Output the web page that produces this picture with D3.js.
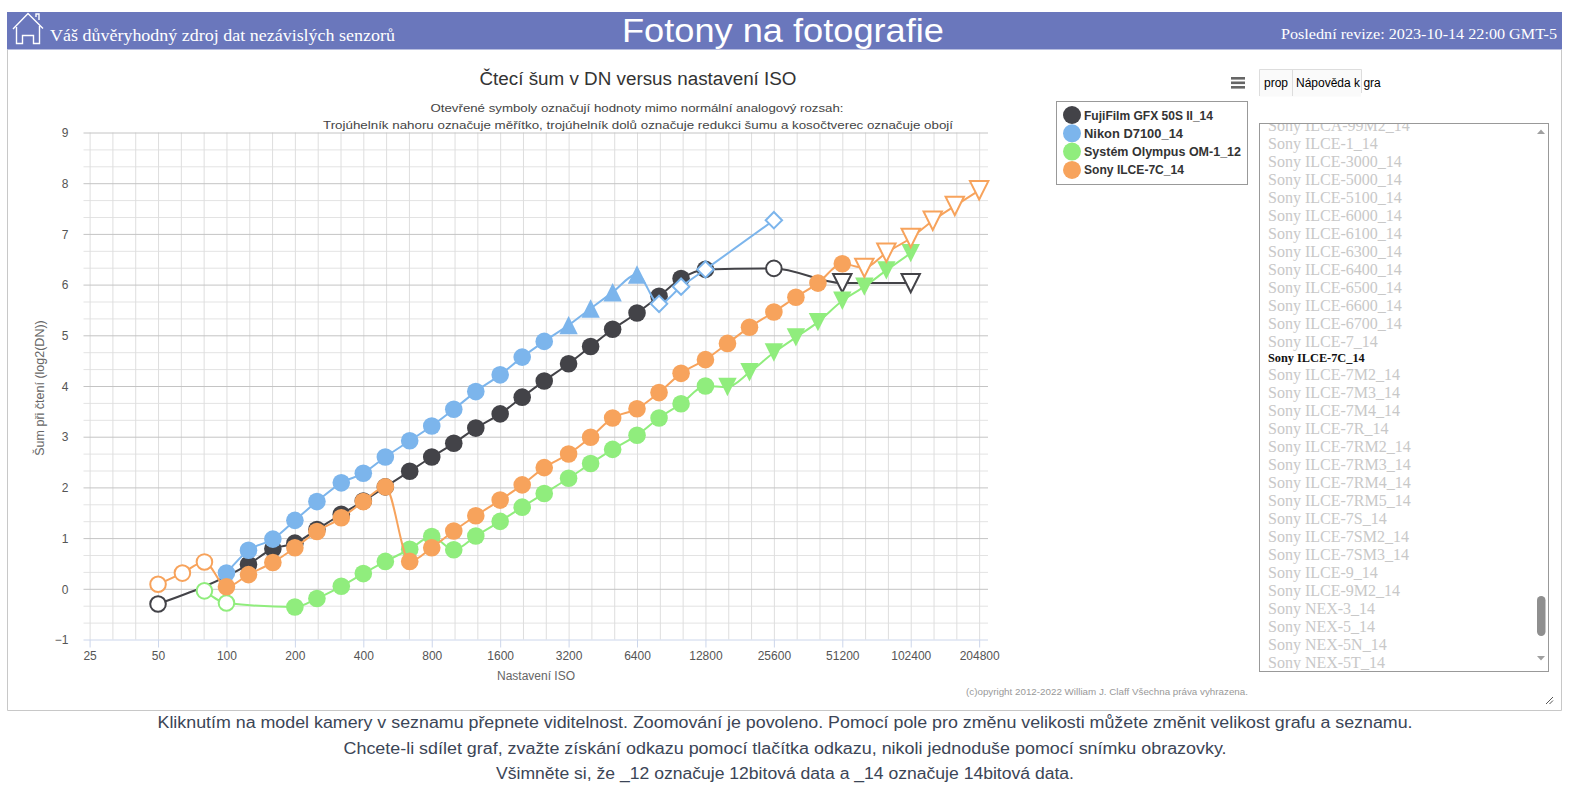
<!DOCTYPE html>
<html><head><meta charset="utf-8">
<script src="https://cdn.jsdelivr.net/npm/d3@7"></script>
<style>body{margin:0;background:#fff;overflow:hidden;} svg{display:block;}</style>
</head><body><svg id="c" width="1569" height="799"></svg>
<script>
// ---------- DATA ----------
const isoTicks = [25,50,100,200,400,800,1600,3200,6400,12800,25600,51200,102400,204800];
const yTicks = [-1,0,1,2,3,4,5,6,7,8,9];
const seriesNames = ["FujiFilm GFX 50S II_14","Nikon D7100_14","Systém Olympus OM-1_12","Sony ILCE-7C_14"];
const seriesColors = ["#434348","#7cb5ec","#90ed7d","#f7a35c"];
// marker codes: c = normal, o = outside analog range, tu = scaling, td = noise reduction,
// otd = noise reduction outside range, od = both outside range
const fujiIso = [50,125,160,200,250,320,400,500,640,800,1000,1250,1600,2000,2500,3200,4000,5000,6400,8000,10000,12800,25600,51200,102400];
const fujiVal = [-0.30,0.48,0.79,0.90,1.17,1.47,1.73,2.01,2.32,2.60,2.87,3.17,3.45,3.78,4.10,4.44,4.78,5.12,5.44,5.77,6.12,6.30,6.32,6.03,6.03];
const fujiMark = ["o","c","c","c","c","c","c","c","c","c","c","c","c","c","c","c","c","c","c","c","c","c","o","otd","otd"];
const nikonIso = [100,125,160,200,250,320,400,500,640,800,1000,1250,1600,2000,2500,3200,4000,5000,6400,8000,10000,12800,25600];
const nikonVal = [0.31,0.76,0.98,1.35,1.72,2.09,2.28,2.60,2.92,3.21,3.54,3.89,4.22,4.57,4.88,5.20,5.53,5.85,6.20,5.62,5.96,6.30,7.27];
const nikonMark = ["c","c","c","c","c","c","c","c","c","c","c","c","c","c","c","tu","tu","tu","tu","od","od","od","od"];
const olyIso = [80,100,200,250,320,400,500,640,800,1000,1250,1600,2000,2500,3200,4000,5000,6400,8000,10000,12800,16000,20000,25600,32000,40000,51200,64000,80000,102400];
const olyVal = [-0.04,-0.28,-0.36,-0.19,0.05,0.30,0.54,0.78,1.03,0.77,1.04,1.33,1.61,1.88,2.18,2.47,2.75,3.03,3.37,3.65,4.00,3.98,4.27,4.66,4.96,5.26,5.68,5.96,6.28,6.62];
const olyMark = ["o","o","c","c","c","c","c","c","c","c","c","c","c","c","c","c","c","c","c","c","c","td","td","td","td","td","td","td","td","td"];
const sonyIso = [50,64,80,100,125,160,200,250,320,400,500,640,800,1000,1250,1600,2000,2500,3200,4000,5000,6400,8000,10000,12800,16000,20000,25600,32000,40000,51200,64000,80000,102400,128000,160000,204800];
const sonyVal = [0.09,0.31,0.53,0.04,0.28,0.52,0.81,1.13,1.40,1.72,2.01,0.54,0.81,1.14,1.44,1.75,2.05,2.39,2.66,2.99,3.37,3.55,3.87,4.25,4.52,4.84,5.16,5.46,5.75,6.03,6.41,6.33,6.63,6.92,7.26,7.55,7.86];
const sonyMark = ["o","o","o","c","c","c","c","c","c","c","c","c","c","c","c","c","c","c","c","c","c","c","c","c","c","c","c","c","c","c","c","otd","otd","otd","otd","otd","otd"];
const listModels = ["Sony ILCA-99M2_14","Sony ILCE-1_14","Sony ILCE-3000_14","Sony ILCE-5000_14","Sony ILCE-5100_14","Sony ILCE-6000_14","Sony ILCE-6100_14","Sony ILCE-6300_14","Sony ILCE-6400_14","Sony ILCE-6500_14","Sony ILCE-6600_14","Sony ILCE-6700_14","Sony ILCE-7_14","Sony ILCE-7C_14","Sony ILCE-7M2_14","Sony ILCE-7M3_14","Sony ILCE-7M4_14","Sony ILCE-7R_14","Sony ILCE-7RM2_14","Sony ILCE-7RM3_14","Sony ILCE-7RM4_14","Sony ILCE-7RM5_14","Sony ILCE-7S_14","Sony ILCE-7SM2_14","Sony ILCE-7SM3_14","Sony ILCE-9_14","Sony ILCE-9M2_14","Sony NEX-3_14","Sony NEX-5_14","Sony NEX-5N_14","Sony NEX-5T_14"];
const selectedModel = "Sony ILCE-7C_14";
const headerLeft = "Váš důvěryhodný zdroj dat nezávislých senzorů";
const headerTitle = "Fotony na fotografie";
const headerRight = "Poslední revize: 2023-10-14 22:00 GMT-5";
const chartTitle = "Čtecí šum v DN versus nastavení ISO";
const subtitleLines = ["Otevřené symboly označují hodnoty mimo normální analogový rozsah:","Trojúhelník nahoru označuje měřítko, trojúhelník dolů označuje redukci šumu a kosočtverec označuje obojí"];
const xTitle = "Nastavení ISO";
const yTitle = "Šum při čtení (log2(DN))";
const copyright = "(c)opyright 2012-2022 William J. Claff Všechna práva vyhrazena.";
const footerLines = ["Kliknutím na model kamery v seznamu přepnete viditelnost. Zoomování je povoleno. Pomocí pole pro změnu velikosti můžete změnit velikost grafu a seznamu.","Chcete-li sdílet graf, zvažte získání odkazu pomocí tlačítka odkazu, nikoli jednoduše pomocí snímku obrazovky.","Všimněte si, že _12 označuje 12bitová data a _14 označuje 14bitová data."];

// ---------- DRAW ----------
const svg = d3.select("#c");
const SANS = "'Liberation Sans', Arial, sans-serif";
const SERIF = "'Liberation Serif', 'Times New Roman', serif";
function fit(sel, w){
  const L = sel.node().getComputedTextLength();
  if (Math.abs(L - w) / w > 0.015) sel.attr("textLength", w).attr("lengthAdjust", "spacingAndGlyphs");
  return sel;
}

// header
svg.append("rect").attr("x",7).attr("y",12).attr("width",1555).attr("height",37).attr("fill","#6a77bc");
svg.append("line").attr("x1",7).attr("x2",1562).attr("y1",49.5).attr("y2",49.5).attr("stroke","#b8bedf");
const hg = svg.append("g").attr("fill","none").attr("stroke","#fff").attr("stroke-width",1.4);
hg.append("path").attr("d","M13,29 L28,13.5 L43,28.5 M36,17 L36,14 L39,14 L39,20");
hg.append("path").attr("d","M16.5,27 L16.5,43.5 L22.5,43.5 L22.5,35.5 L33.5,35.5 L33.5,43.5 L39.5,43.5 L39.5,26");
fit(svg.append("text").attr("x",50).attr("y",41).attr("font-family",SERIF).attr("font-size",17).attr("fill","#fff").text(headerLeft),345);
fit(svg.append("text").attr("x",783).attr("y",42).attr("text-anchor","middle").attr("font-family",SANS).attr("font-size",33).attr("fill","#fff").text(headerTitle),322);
fit(svg.append("text").attr("x",1557).attr("y",39).attr("text-anchor","end").attr("font-family",SERIF).attr("font-size",15).attr("fill","#fff").text(headerRight),276);

// container border
svg.append("path").attr("d","M7.5,50 L7.5,710.5 L1561.5,710.5 L1561.5,50").attr("fill","none").attr("stroke","#c8c8c8");

// scales
const x = d3.scaleLog().base(2).domain([23.5, 224000]).range([83.5, 988]);
const y = d3.scaleLinear().domain([-1, 9]).range([639.5, 132.5]);
const [x0, x1] = x.range();

// grid
const minorX = [];
for (let k = 0; k <= 39; k++) { const v = 25 * Math.pow(2, k/3); if (k % 3 !== 0 && v < 224000) minorX.push(v); }
const minorY = [];
for (let k = -3; k < 27; k++) { if (k % 3 !== 0) minorY.push(k/3); }
const grid = svg.append("g");
grid.append("g").attr("transform",`translate(${x0},0)`)
  .call(d3.axisLeft(y).tickValues(minorY).tickSize(-(x1-x0)).tickFormat(""))
  .call(g=>{g.select(".domain").remove(); g.selectAll("line").attr("stroke","#e3e3e3");});
grid.append("g").attr("transform",`translate(0,${y(9)})`)
  .call(d3.axisBottom(x).tickValues(minorX.concat(isoTicks)).tickSize(y(-1)-y(9)).tickFormat(""))
  .call(g=>{g.select(".domain").remove(); g.selectAll("line").attr("stroke","#dedede");});
grid.append("g").attr("transform",`translate(${x0},0)`)
  .call(d3.axisLeft(y).tickValues(yTicks.slice(1)).tickSize(-(x1-x0)).tickFormat(""))
  .call(g=>{g.select(".domain").remove(); g.selectAll("line").attr("stroke","#c4c4c4");});

// x axis
const xa = svg.append("g").attr("transform",`translate(0,${y(-1)})`)
  .call(d3.axisBottom(x).tickValues(isoTicks).tickSize(8).tickPadding(4).tickFormat(d3.format("d")));
xa.select(".domain").attr("d",`M${x0},0.5H${x1}`).attr("stroke","#ccd6eb");
xa.selectAll(".tick line").attr("stroke","#ccd6eb");
xa.selectAll("text").attr("font-family",SANS).attr("font-size",12).attr("fill","#555");
// y axis labels
const ya = svg.append("g").attr("transform",`translate(${x0-15},0)`)
  .call(d3.axisLeft(y).tickValues(yTicks).tickSize(0).tickPadding(0));
ya.select(".domain").remove();
ya.selectAll("text").attr("font-family",SANS).attr("font-size",12).attr("fill","#555").attr("dy","0.35em");

// axis titles
svg.append("text").attr("x",536).attr("y",680).attr("text-anchor","middle").attr("font-family",SANS).attr("font-size",12).attr("fill","#666").text(xTitle);
svg.append("text").attr("transform","translate(44,388) rotate(-90)").attr("text-anchor","middle").attr("font-family",SANS).attr("font-size",12.5).attr("fill","#666").text(yTitle);

// titles
fit(svg.append("text").attr("x",638).attr("y",85).attr("text-anchor","middle").attr("font-family",SANS).attr("font-size",18).attr("fill","#333").text(chartTitle),317);
fit(svg.append("text").attr("x",637).attr("y",112).attr("text-anchor","middle").attr("font-family",SANS).attr("font-size",11.5).attr("fill","#444").text(subtitleLines[0]),413);
fit(svg.append("text").attr("x",638).attr("y",129).attr("text-anchor","middle").attr("font-family",SANS).attr("font-size",11.5).attr("fill","#444").text(subtitleLines[1]),630);

// series
const series = [
  {iso:fujiIso, val:fujiVal, mark:fujiMark},
  {iso:nikonIso, val:nikonVal, mark:nikonMark},
  {iso:olyIso, val:olyVal, mark:olyMark},
  {iso:sonyIso, val:sonyVal, mark:sonyMark}
].map((s,i)=>({name:seriesNames[i], color:seriesColors[i], pts:s.iso.map((v,j)=>({iso:v, v:s.val[j], m:s.mark[j]}))}));

const line = d3.line().x(d=>x(d.iso)).y(d=>y(d.v)).curve(d3.curveMonotoneX);
const R = 8.8, T = 9.2, D = 8.2;
function tri(up){ return up ? `M0,${-T}L${T},${T}L${-T},${T}Z` : `M${-T},${-T}L${T},${-T}L0,${T}Z`; }
series.forEach(s=>{
  const g = svg.append("g");
  g.append("path").attr("d", line(s.pts)).attr("fill","none").attr("stroke",s.color).attr("stroke-width",2);
  s.pts.forEach(p=>{
    const cx = x(p.iso), cy = y(p.v);
    const open = p.m === "o" || p.m === "otd" || p.m === "od";
    let el;
    if (p.m === "c" || p.m === "o") el = g.append("circle").attr("cx",cx).attr("cy",cy).attr("r", open ? R-1 : R);
    else if (p.m === "tu") el = g.append("path").attr("d",tri(true)).attr("transform",`translate(${cx},${cy})`);
    else if (p.m === "td" || p.m === "otd") el = g.append("path").attr("d",tri(false)).attr("transform",`translate(${cx},${cy})`);
    else el = g.append("path").attr("d",`M0,${-D}L${D},0L0,${D}L${-D},0Z`).attr("transform",`translate(${cx},${cy})`);
    if (open) el.attr("fill","#fff").attr("stroke",s.color).attr("stroke-width",2);
    else el.attr("fill",s.color);
  });
});

// legend
const lg = svg.append("g");
lg.append("rect").attr("x",1056.5).attr("y",101.5).attr("width",191).attr("height",83).attr("fill","#fff").attr("stroke","#999");
const legW = [129,99,155,100];
series.forEach((s,i)=>{
  const cy = 115 + i*18.3;
  lg.append("circle").attr("cx",1072).attr("cy",cy).attr("r",9).attr("fill",s.color);
  fit(lg.append("text").attr("x",1084).attr("y",cy+4.5).attr("font-family",SANS).attr("font-weight","bold").attr("font-size",12.5).attr("fill","#333").text(s.name), legW[i]);
});

// menu + buttons
[77,81.5,86].forEach(yy=>svg.append("rect").attr("x",1231).attr("y",yy).attr("width",14).attr("height",2.6).attr("fill","#666"));
const bg = svg.append("g");
bg.append("rect").attr("x",1259.5).attr("y",69.5).attr("width",101.5).attr("height",27).attr("fill","#fafafa");
bg.append("path").attr("d","M1259.5,96 V69.5 H1361.5 V93 M1292.5,69.5 V96").attr("fill","none").attr("stroke","#ddd");
bg.append("text").attr("x",1264).attr("y",87).attr("font-family",SANS).attr("font-size",12).attr("fill","#000").text("prop");
bg.append("text").attr("x",1296).attr("y",87).attr("font-family",SANS).attr("font-size",12).attr("fill","#000").text("Nápověda k gra");

// list box
svg.append("defs").append("clipPath").attr("id","lc").append("rect").attr("x",1260).attr("y",124).attr("width",287).attr("height",546);
svg.append("rect").attr("x",1259.5).attr("y",123.5).attr("width",289).attr("height",548).attr("fill","#fff").attr("stroke","#999");
const lst = svg.append("g").attr("clip-path","url(#lc)");
let rowTop = 116;
listModels.forEach(m=>{
  const sel = m === selectedModel;
  const h = sel ? 15 : 18;
  const c = rowTop + h/2;
  lst.append("text").attr("x",1268).attr("y", c + (sel ? 4 : 5.5))
    .attr("font-family",SERIF).attr("font-size", sel ? 12.3 : 16).attr("font-weight", sel ? "bold" : "normal")
    .attr("fill", sel ? "#111" : "#c8c8c8").text(m);
  rowTop += h;
});
svg.append("path").attr("d","M1537,134 L1541,129.5 L1545,134 Z").attr("fill","#a0a0a0");
svg.append("path").attr("d","M1537,656 L1541,660.5 L1545,656 Z").attr("fill","#a0a0a0");
svg.append("rect").attr("x",1537).attr("y",596).attr("width",8.5).attr("height",40).attr("rx",4.2).attr("fill","#8f8f8f");
// resize grip
svg.append("path").attr("d","M1546,704 L1553,697 M1549.5,704 L1553,700.5").attr("stroke","#555").attr("stroke-width",1);

// copyright
fit(svg.append("text").attr("x",1248).attr("y",695).attr("text-anchor","end").attr("font-family",SANS).attr("font-size",9).attr("fill","#999").text(copyright),282);

// footer
const footW = [1255,883,578];
footerLines.forEach((t,i)=>{
  fit(svg.append("text").attr("x",785).attr("y",728 + i*25.5).attr("text-anchor","middle").attr("font-family",SANS).attr("font-size",16).attr("fill","#3b4556").text(t), footW[i]);
});
</script></body></html>
